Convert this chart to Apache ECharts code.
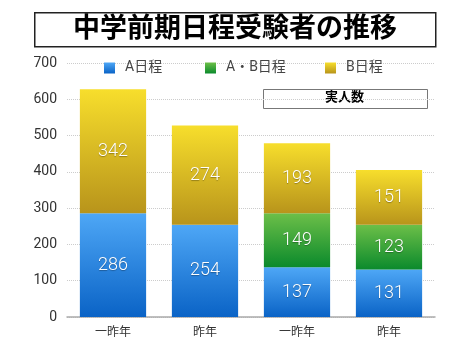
<!DOCTYPE html>
<html><head><meta charset="utf-8">
<script src="https://cdn.jsdelivr.net/npm/echarts@6/dist/echarts.min.js"></script>
<style>html,body{margin:0;padding:0;background:#fff}#c{width:470px;height:353px}</style>
</head><body><div id="c"></div>
<script>
const categories = ['一昨年', '昨年', '一昨年', '昨年'];
const seriesA = [286, 254, 137, 131];
const seriesAB = [null, null, 149, 123];
const seriesB = [342, 274, 193, 151];
const yTicks = [0, 100, 200, 300, 400, 500, 600, 700];
const legendNames = ['A日程', 'A・B日程', 'B日程'];
const titleText = '中学前期日程受験者の推移';
const boxText = '実人数';

function grad(top, bottom) {
  return new echarts.graphic.LinearGradient(0, 0, 0, 1, [
    {offset: 0, color: top}, {offset: 1, color: bottom}
  ]);
}
const font = '"Noto Sans CJK JP", "Noto Sans", sans-serif';
const numFont = 'Roboto, "Noto Sans CJK JP", sans-serif';
const lbl = {
  show: true, position: 'inside', color: '#fff', fontSize: 18, fontFamily: numFont, fontWeight: 300,
  textShadowColor: 'rgba(0,0,0,0.3)', textShadowBlur: 1, textShadowOffsetY: 1
};
const legendLefts = [99, 200, 320];
const chart = echarts.init(document.getElementById('c'));
chart.setOption({
  animation: false,
  textStyle: {fontFamily: font},
  grid: {left: 67, right: 35, top: 63, bottom: 36},
  legend: legendNames.map((n, i) => ({
    top: 56, left: legendLefts[i], itemWidth: 11, itemHeight: 11, icon: 'rect',
    textStyle: {fontSize: 14, color: '#444', fontFamily: numFont, padding: [0, 0, 0, 5]},
    data: [n]
  })),
  xAxis: {
    type: 'category', data: categories,
    axisLine: {lineStyle: {color: '#aaa', width: 1.5}},
    axisTick: {show: false},
    axisLabel: {color: '#333', fontSize: 12, margin: 8}
  },
  yAxis: {
    type: 'value', min: 0, max: 700, interval: 100,
    axisLabel: {color: '#333', fontSize: 14, margin: 10, fontFamily: numFont,
      formatter: v => yTicks.includes(v) ? String(v) : ''},
    splitLine: {lineStyle: {color: '#ccc', type: 'dotted'}},
    axisLine: {show: false}, axisTick: {show: false}
  },
  series: [
    {name: 'A日程', type: 'bar', stack: 's', data: seriesA, barWidth: '72%',
     itemStyle: {color: grad('#4ea7f6', '#0a63c6')}, label: lbl},
    {name: 'A・B日程', type: 'bar', stack: 's', data: seriesAB, barWidth: '72%',
     itemStyle: {color: grad('#6cbf48', '#0b8a2c')}, label: lbl},
    {name: 'B日程', type: 'bar', stack: 's', data: seriesB, barWidth: '72%',
     itemStyle: {color: grad('#f7de2c', '#b8941b')}, label: lbl}
  ],
  graphic: [
    {type: 'rect', left: 34, top: 12, shape: {width: 401, height: 34},
     style: {fill: '#fff', stroke: '#222', lineWidth: 1.5}},
    {type: 'text', left: 'center', top: 13,
     style: {text: titleText, fontSize: 27, fontWeight: 'bold', fill: '#000', fontFamily: font}},
    {type: 'rect', left: 263, top: 89, shape: {width: 164, height: 19},
     style: {fill: '#fff', stroke: '#777', lineWidth: 1}},
    {type: 'text', left: 325, top: 90,
     style: {text: boxText, fontSize: 13, fontWeight: 'bold', fill: '#000', fontFamily: font}}
  ]
});
</script></body></html>
